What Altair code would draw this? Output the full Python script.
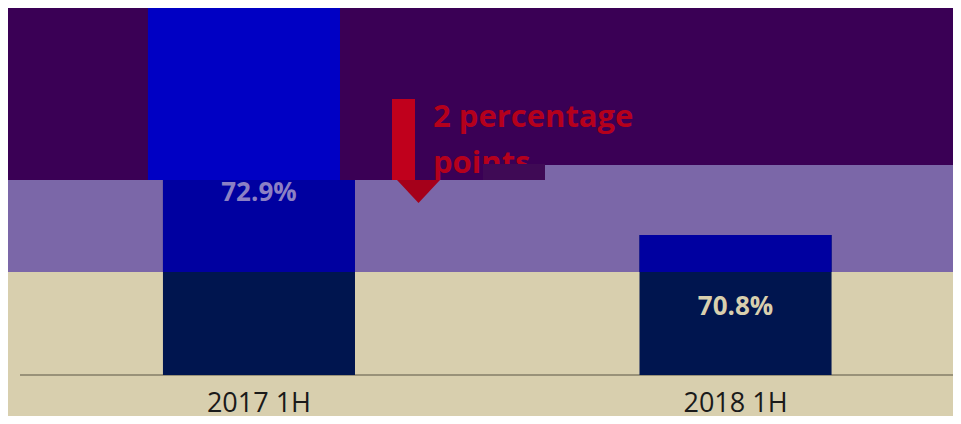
import altair as alt
import pandas as pd

# ---- data ----
categories = ["2017 1H", "2018 1H"]
values = [72.9, 70.8]
value_labels = ["72.9%", "70.8%"]
label_levels = [72.40, 68.05]
label_colors = ["#8c80c4", "#d8cfae"]

y_min, y_max = 65.455, 79.468
band_split = 69.39          # beige / lavender boundary
lavender_top_left = 72.9
lavender_top_right = 73.47
ghost_top = 79.7

annotation_lines = ["2 percentage", "points"]

W, H = 945, 367

df = pd.DataFrame({
    "period": categories,
    "value": values,
    "label": value_labels,
    "label_y": label_levels,
    "label_color": label_colors,
})

y_scale = alt.Scale(domain=[y_min, y_max], nice=False, zero=False)
x_enc = alt.X(
    "period:N", sort=categories,
    scale=alt.Scale(paddingInner=0.597, paddingOuter=0.29, align=0.5606),
    axis=alt.Axis(title=None, labelAngle=0, ticks=False, domain=False,
                  labelFont="Open Sans", labelFontSize=27, labelColor="#1a1a1a",
                  labelBaseline="alphabetic", labelPadding=36),
)

one = pd.DataFrame({"k": [0]})
band_left = pd.DataFrame({"lo": [band_split], "hi": [lavender_top_left]})
band_right = pd.DataFrame({"lo": [band_split], "hi": [lavender_top_right]})

lav_l = alt.Chart(band_left).mark_rect(color="#7b67a8").encode(
    x=alt.value(0), x2=alt.value(535),
    y=alt.Y("lo:Q", scale=y_scale, axis=None), y2="hi:Q")
lav_r = alt.Chart(band_right).mark_rect(color="#7b67a8").encode(
    x=alt.value(535), x2=alt.value(W),
    y=alt.Y("lo:Q", scale=y_scale, axis=None), y2="hi:Q")
dark_l = alt.Chart(band_left).mark_rect(color="#3a0055").encode(
    x=alt.value(0), x2=alt.value(535),
    y=alt.Y("hi:Q", scale=y_scale, axis=None), y2=alt.value(-5))
dark_r = alt.Chart(band_right).mark_rect(color="#3a0055").encode(
    x=alt.value(535), x2=alt.value(W),
    y=alt.Y("hi:Q", scale=y_scale, axis=None), y2=alt.value(-5))

baseline = alt.Chart(one).mark_rule(color="#5b5745", strokeWidth=1.2).encode(
    x=alt.value(12), x2=alt.value(W), y=alt.value(H))

base = alt.Chart(df)
navy = base.mark_bar(color="#00154f").encode(
    x=x_enc, y=alt.Y("value:Q", scale=y_scale, axis=None), y2=alt.Y2(datum=y_min))
blue = base.mark_bar(color="#0000a0").encode(
    x=x_enc, y=alt.Y("value:Q", scale=y_scale, axis=None), y2=alt.Y2(datum=band_split))
ghost = base.transform_filter(alt.datum.period == categories[0]).mark_bar(
    color="#0000c4", xOffset=-15).encode(
    x=x_enc, y=alt.Y("value:Q", scale=y_scale, axis=None), y2=alt.Y2(datum=ghost_top))

labels = base.mark_text(font="Open Sans", fontWeight="bold", fontSize=26,
                        baseline="middle", align="center").encode(
    x=x_enc, y=alt.Y("label_y:Q", scale=y_scale, axis=None),
    text="label:N", color=alt.Color("label_color:N", scale=None))

shaft = alt.Chart(one).mark_rect(color="#c0001c").encode(
    x=alt.value(384), x2=alt.value(407), y=alt.value(91), y2=alt.value(172))
head = alt.Chart(one).mark_point(
    shape="M-1,-0.535L1,-0.535L0,0.535Z", filled=True, size=1849,
    color="#a5001a", opacity=1).encode(x=alt.value(410.5), y=alt.value(183.5))

txt1 = alt.Chart(one).mark_text(font="Open Sans", fontWeight="bold", fontSize=31,
                                align="left", baseline="alphabetic",
                                color="#b5001c").encode(
    x=alt.value(425), y=alt.value(119), text=alt.value(annotation_lines[0]))
txt2 = alt.Chart(one).mark_text(font="Open Sans", fontWeight="bold", fontSize=31,
                                align="left", baseline="alphabetic",
                                color="#b5001c").encode(
    x=alt.value(425), y=alt.value(165), text=alt.value(annotation_lines[1]))
cover = alt.Chart(one).mark_rect(color="#3f0a55").encode(
    x=alt.value(475), x2=alt.value(537), y=alt.value(156), y2=alt.value(172))

chart = alt.layer(
    lav_l, lav_r, dark_l, dark_r, baseline, navy, blue, ghost, labels,
    shaft, head, txt1, txt2, cover
).properties(
    width=W, height=H,
    autosize=alt.AutoSizeParams(type="none"),
    padding={"left": 0, "top": 0, "right": 0, "bottom": 41},
    background="#d8cfae",
).configure_view(strokeWidth=0)

chart.save("out.html", embed_options={"renderer": "svg", "actions": False})
